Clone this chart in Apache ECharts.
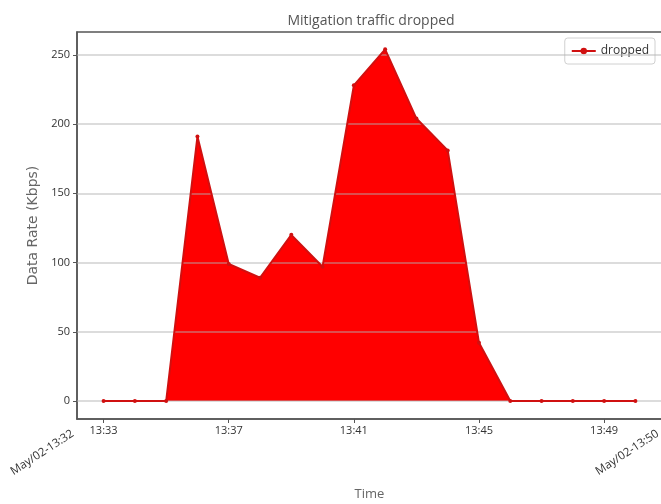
<!DOCTYPE html>
<html>
<head>
<meta charset="utf-8">
<script src="https://cdn.jsdelivr.net/npm/echarts@6/dist/echarts.min.js"></script>
<style>html,body{margin:0;padding:0;background:#fff}#c{width:661px;height:504px}</style>
</head>
<body>
<div id="c"></div>
<script>
// ---- data ----
var times = ['13:33','13:34','13:35','13:36','13:37','13:38','13:39','13:40','13:41',
             '13:42','13:43','13:44','13:45','13:46','13:47','13:48','13:49','13:50'];
var dropped = [0,0,0,191,99,89,120,97,228,254,204,181,42,0,0,0,0,0];
var xTickLabels = ['13:33','13:37','13:41','13:45','13:49'];
var yTickValues = [0,50,100,150,200,250];
var endLabels = ['May/02-13:32','May/02-13:50'];
var titleText = 'Mitigation traffic dropped';
var seriesName = 'dropped';
var xName = 'Time';
var yName = 'Data Rate (Kbps)';

function toMin(t){ var p = t.split(':'); return (+p[0] - 13) * 60 + (+p[1]); }
var points = times.map(function(t, i){ return [toMin(t), dropped[i]]; });
var xTickValues = xTickLabels.map(toMin);
var xMin = 32.15, xMax = 50.85;
var endValues = [xMin, xMax];
var font = '"Open Sans", "Noto Sans", sans-serif';

var chart = echarts.init(document.getElementById('c'), null, {renderer: 'canvas'});
chart.setOption({
  animation: false,
  backgroundColor: '#fff',
  textStyle: {fontFamily: font},
  title: {
    text: titleText, left: 366, top: 9, textAlign: 'center',
    textStyle: {fontSize: 14, fontWeight: 'normal', color: '#555', fontFamily: font}
  },
  legend: {
    data: [seriesName], right: 6, top: 38,
    backgroundColor: '#fff', borderColor: '#d0d0d0', borderWidth: 1, borderRadius: 3,
    padding: [7, 6], itemWidth: 24, itemHeight: 8, itemGap: 5,
    textStyle: {fontSize: 12, color: '#333', fontFamily: font}
  },
  grid: {left: 77, top: 32, right: -1, bottom: 85, outerBoundsMode: 'none', containLabel: false,
    show: true, borderColor: '#555', borderWidth: 1.5, backgroundColor: 'transparent'},
  xAxis: [{
    type: 'value', min: xMin, max: xMax, position: 'bottom',
    name: xName, nameLocation: 'middle', nameGap: 69,
    nameTextStyle: {fontSize: 13, color: '#666', fontFamily: font},
    axisLine: {show: true, onZero: false, lineStyle: {color: '#555', width: 1.5}},
    axisTick: {show: true, customValues: xTickValues, length: 4, lineStyle: {color: '#555'}},
    axisLabel: {customValues: xTickValues, margin: 6, fontSize: 11, color: '#333', fontFamily: font,
      formatter: function(v){ return xTickLabels[xTickValues.indexOf(v)]; }},
    splitLine: {show: false}
  }, {
    type: 'value', min: xMin, max: xMax, position: 'bottom', gridIndex: 0,
    axisLine: {show: false, onZero: false}, axisTick: {show: false},
    axisLabel: {customValues: endValues, margin: 11, rotate: 33, padding: [0, 5, 0, 0],
      fontSize: 11.5, color: '#333', fontFamily: font,
      formatter: function(v){ return endLabels[endValues.indexOf(v)]; }},
    splitLine: {show: false}
  }],
  yAxis: {
    type: 'value', min: -13, max: 266.5,
    name: yName, nameLocation: 'middle', nameGap: 33,
    nameTextStyle: {fontSize: 14, color: '#666', fontFamily: '"DejaVu Sans", sans-serif'},
    axisLine: {show: true, lineStyle: {color: '#555', width: 1.5}},
    axisTick: {show: true, customValues: yTickValues, length: 4, lineStyle: {color: '#555'}},
    axisLabel: {customValues: yTickValues, margin: 7, fontSize: 11, color: '#333', fontFamily: font},
    splitLine: {show: false}
  },
  series: [{
    name: 'area', type: 'line', data: points, xAxisIndex: 0,
    symbol: 'none', lineStyle: {width: 0}, areaStyle: {color: '#ff0000', opacity: 1, origin: 0},
    z: 2, silent: true,
    markLine: {
      silent: true, symbol: 'none', label: {show: false},
      lineStyle: {color: 'rgba(176,176,176,0.6)', width: 1.5, type: 'solid'},
      data: yTickValues.map(function(v){ return {yAxis: v}; })
    }
  }, {
    name: seriesName, type: 'line', data: points, xAxisIndex: 0, z: 5,
    symbol: 'circle', symbolSize: 4, showSymbol: true,
    itemStyle: {color: '#d01010'},
    lineStyle: {color: '#d01010', width: 2}
  }]
});
</script>
</body>
</html>
